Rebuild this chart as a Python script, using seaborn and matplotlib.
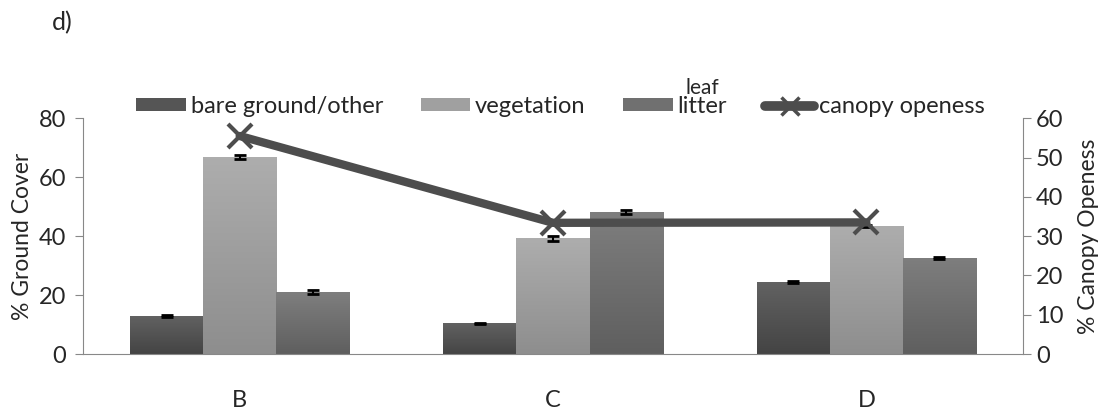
import numpy as np
import pandas as pd
import matplotlib
matplotlib.use("Agg")
import matplotlib.pyplot as plt
import seaborn as sns
from matplotlib.colors import LinearSegmentedColormap
from matplotlib.patches import Patch
from matplotlib.lines import Line2D

# Datos
sites = ['B', 'C', 'D']
cover_types = ['bare ground/other', 'vegetation', 'leaf litter']
bare = [12.9, 10.4, 24.5]
vegetation = [66.9, 39.3, 43.5]
litter = [21.0, 48.2, 32.7]
bare_err = [0.3, 0.3, 0.3]
vegetation_err = [0.6, 0.8, 0.3]
litter_err = [0.7, 0.8, 0.3]
canopy = [55.5, 33.4, 33.5]

# Colores (arriba, abajo) para el degradado de cada serie
grad_colors = [('#626262', '#444444'), ('#adadad', '#8e8e8e'), ('#7e7e7e', '#5f5f5f')]
flat_colors = ['#555555', '#a0a0a0', '#707070']
line_color = '#4d4d4d'
FS = 17

sns.set_style("white")
plt.rcParams['font.family'] = ['Lato', 'DejaVu Sans']
plt.rcParams['font.size'] = FS

df = pd.DataFrame({
    'site': sites * 3,
    'cover': bare + vegetation + litter,
    'type': [t for t in cover_types for _ in sites],
})

fig = plt.figure(figsize=(11.1, 4.18), dpi=100)
ax = fig.add_axes([0.0748, 0.153, 0.8468, 0.564])

sns.barplot(data=df, x='site', y='cover', hue='type', hue_order=cover_types,
            palette=flat_colors, saturation=1, width=0.7, errorbar=None,
            legend=False, ax=ax)

# Degradado vertical dentro de cada barra + barras de error
errs = [bare_err, vegetation_err, litter_err]
for container, (top, bottom), err in zip(ax.containers, grad_colors, errs):
    cmap = LinearSegmentedColormap.from_list('g', [bottom, top])
    xs, ys = [], []
    for patch in container.patches:
        x0, w, h = patch.get_x(), patch.get_width(), patch.get_height()
        patch.set_facecolor('none')
        patch.set_edgecolor('none')
        im = ax.imshow(np.linspace(0, 1, 64)[:, None], cmap=cmap, aspect='auto',
                       origin='lower', extent=[x0, x0 + w, 0, h], zorder=1.5)
        im.set_clip_path(patch)
        xs.append(x0 + w / 2)
        ys.append(h)
    ax.errorbar(xs, ys, yerr=err, fmt='none', ecolor='black', elinewidth=1.5,
                capsize=4, capthick=2, zorder=3)

ax.set_xlim(-0.5, 2.5)
ax.set_ylim(0, 80)
ax.set_yticks([0, 20, 40, 60, 80])
ax.set_xlabel('')
ax.set_ylabel('% Ground Cover', fontsize=16.5, labelpad=4)
ax.set_xticks([0.5, 1.5], minor=True)
ax.tick_params(axis='x', which='major', length=0, pad=26, labelsize=FS)
ax.tick_params(axis='x', which='minor', length=6, color='#888888', direction='out')
ax.tick_params(axis='y', length=6, color='#888888', direction='out', labelsize=FS, pad=6)
for side in ['top', 'right']:
    ax.spines[side].set_visible(False)
for side in ['left', 'bottom']:
    ax.spines[side].set_color('#888888')

# Eje derecho: apertura del dosel
ax2 = ax.twinx()
sns.pointplot(x=sites, y=canopy, ax=ax2, color=line_color, markers='x',
              linestyles='-', errorbar=None, linewidth=6, markersize=17,
              markeredgewidth=3)
ax2.set_xlim(-0.5, 2.5)
ax2.set_ylim(0, 60)
ax2.set_yticks(range(0, 61, 10))
ax2.set_ylabel('% Canopy Openess', fontsize=16.5, labelpad=10)
ax2.tick_params(axis='y', length=6, color='#888888', direction='out', labelsize=FS)
for side in ['top', 'left', 'bottom']:
    ax2.spines[side].set_visible(False)
ax2.spines['right'].set_color('#888888')

# Leyenda: "leaf litter" va partida, "leaf" encima de "litter" como en Excel
handles = [Patch(facecolor=c, edgecolor='none') for c in flat_colors]
handles.append(Line2D([], [], color=line_color, lw=7, marker='x',
                      markersize=13, markeredgewidth=2.5))
labels = cover_types[:2] + [cover_types[2].split()[1], 'canopy openess']
leg = fig.legend(handles, labels, ncol=4, loc='center', bbox_to_anchor=(0.505, 0.745),
                 frameon=False, fontsize=FS, handlelength=2.1, handleheight=0.45,
                 handletextpad=0.2, columnspacing=1.6)

fig.canvas.draw()
bb = leg.get_texts()[2].get_window_extent().transformed(fig.transFigure.inverted())
fig.text((bb.x0 + bb.x1) / 2, bb.y1 - 0.005, cover_types[2].split()[0],
         fontsize=15, ha='center', va='bottom')

fig.text(0.047, 0.945, 'd)', fontsize=18, ha='left', va='center')

fig.savefig('out.png', dpi=100)
